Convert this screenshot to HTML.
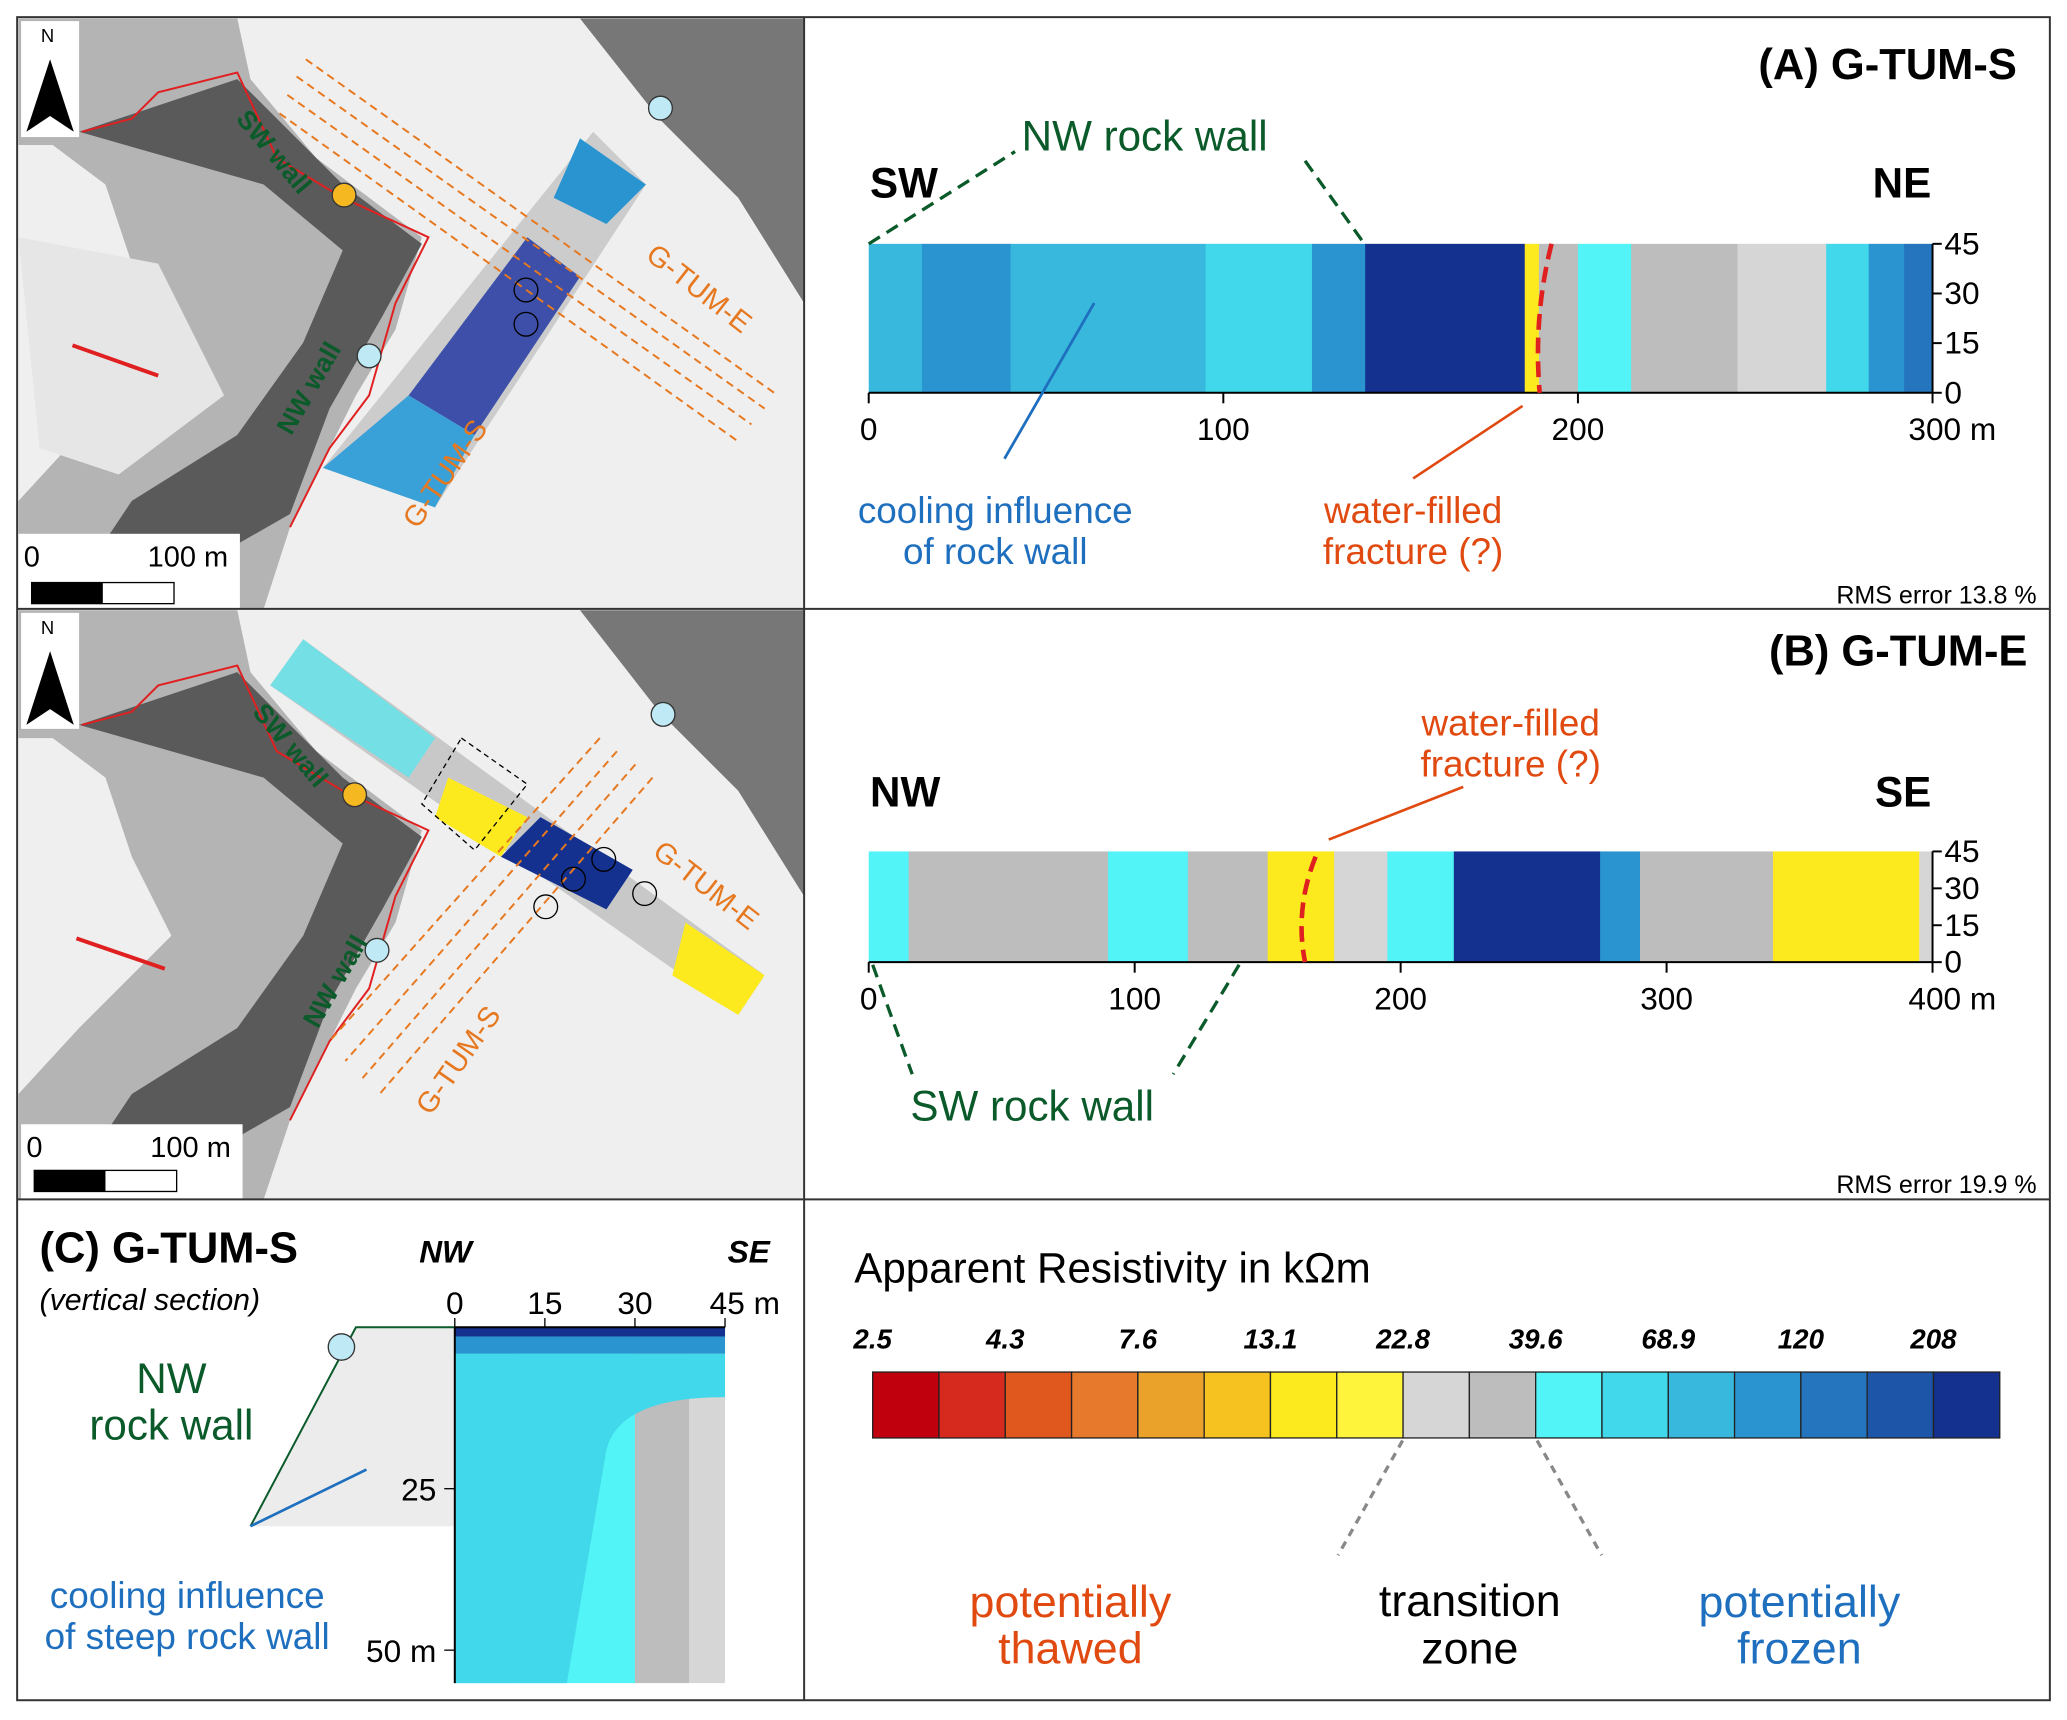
<!DOCTYPE html>
<html><head><meta charset="utf-8"><style>
html,body{margin:0;padding:0;background:#fff}
svg{display:block}
text{font-family:"Liberation Sans",sans-serif}
</style></head><body>
<svg id="fig" width="2067" height="1720" viewBox="0 0 1568 1305" preserveAspectRatio="none" xmlns="http://www.w3.org/2000/svg">
<rect x="0" y="0" width="1568" height="1305" fill="#fff"/>
<g>
<rect x="14" y="14" width="596" height="448" fill="#efefef"/>
<polygon points="14,14 180,14 190,60 240,120 320,180 300,250 270,300 240,360 220,400 200,462 14,462 14,380 60,330 90,300 130,260 100,200 80,140 40,110 14,110" fill="#b4b4b4"/>
<polygon points="60,100 180,60 260,140 320,185 290,240 250,310 220,390 150,430 60,440 100,380 180,330 230,260 260,190 200,140" fill="#5a5a5a"/>
<polygon points="440,14 610,14 610,230 560,150 500,90" fill="#777"/>
<polygon points="14,180 120,200 170,300 90,360 30,340" fill="#e6e6e6"/>
<polyline points="62,100 100,90 120,70 180,55 210,120 260,150 325,180 300,230 280,300 250,340 230,380 220,400" fill="none" stroke="#e02020" stroke-width="1.5"/>
<polygon points="450,100 490,140 330,385 245,355" fill="#c8c8c8" opacity="0.9"/>
<polygon points="400,180 440,210 360,330 310,300" fill="#3d4fa8"/>
<polygon points="310,300 360,330 330,385 245,355" fill="#39a0d8"/>
<polygon points="440,105 490,140 460,170 420,150" fill="#2a94d0"/>
<g stroke="#e67820" stroke-width="1.5" stroke-dasharray="6,4" fill="none">
<line x1="232" y1="45" x2="590" y2="300"/><line x1="225" y1="58" x2="580" y2="310"/><line x1="218" y1="72" x2="570" y2="322"/><line x1="212" y1="86" x2="560" y2="335"/>
</g>
<circle cx="261" cy="148" r="9" fill="#f5b820" stroke="#333"/><circle cx="501" cy="82" r="9" fill="#bfeaf5" stroke="#333"/><circle cx="280" cy="270" r="9" fill="#bfeaf5" stroke="#333"/>
<circle cx="399" cy="220" r="9" fill="none" stroke="#000"/><circle cx="399" cy="246" r="9" fill="none" stroke="#000"/>
<line x1="120" y1="285" x2="55" y2="262" stroke="#e02020" stroke-width="3"/>
<text x="470" y="210" fill="#e67820" font-size="22" transform="rotate(38 500 230)">G-TUM-E</text>
<text x="300" y="390" fill="#e67820" font-size="22" transform="rotate(-55 320 380)">G-TUM-S</text>
<text x="160" y="110" fill="#0a5a2a" font-size="20" font-weight="bold" transform="rotate(50 190 120)">SW wall</text>
<text x="180" y="320" fill="#0a5a2a" font-size="20" font-weight="bold" transform="rotate(-60 210 290)">NW wall</text>
<rect x="16" y="16" width="44" height="88" fill="#fff"/><text x="31" y="32" font-size="14" font-family="Liberation Serif">N</text><polygon points="38,45 20,100 38,88 56,100" fill="#000"/>
<rect x="14" y="405" width="168" height="57" fill="#fff"/><text x="18" y="430" font-size="22">0</text><text x="112" y="430" font-size="22">100 m</text>
<rect x="24" y="442" width="108" height="16" fill="#fff" stroke="#000"/><rect x="24" y="442" width="54" height="16" fill="#000"/>
</g>
<g>
<rect x="14" y="463" width="596" height="447" fill="#efefef"/>
<polygon points="14,463 180,463 190,510 240,570 320,630 300,700 270,750 240,810 220,850 200,910 14,910 14,830 60,780 90,750 130,710 100,650 80,590 40,560 14,560" fill="#b4b4b4"/>
<polygon points="60,550 180,510 260,590 320,635 290,690 250,760 220,840 150,880 60,890 100,830 180,780 230,710 260,640 200,590" fill="#5a5a5a"/>
<polygon points="440,463 610,463 610,680 560,600 500,540" fill="#777"/>
<polyline points="62,550 100,540 120,520 180,505 210,570 260,600 325,630 300,680 280,750 250,790 230,830 220,850" fill="none" stroke="#e02020" stroke-width="1.5"/>
<polygon points="230,485 580,740 560,770 205,520" fill="#c8c8c8"/>
<polygon points="230,485 330,560 310,590 205,520" fill="#50e8f0" opacity="0.7"/>
<polygon points="340,590 400,620 380,650 330,620" fill="#fdea1e"/>
<polygon points="410,620 480,660 460,690 380,650" fill="#14318f"/>
<polygon points="520,700 580,740 560,770 510,740" fill="#fdea1e"/>
<g stroke="#e67820" stroke-width="1.5" stroke-dasharray="6,4" fill="none">
<line x1="455" y1="560" x2="250" y2="790"/><line x1="468" y1="570" x2="262" y2="805"/><line x1="482" y1="580" x2="275" y2="818"/><line x1="495" y1="590" x2="288" y2="830"/>
</g>
<polygon points="350,560 400,595 360,645 320,610" fill="none" stroke="#000" stroke-dasharray="4,3"/>
<circle cx="269" cy="603" r="9" fill="#f5b820" stroke="#333"/><circle cx="503" cy="542" r="9" fill="#bfeaf5" stroke="#333"/><circle cx="286" cy="721" r="9" fill="#bfeaf5" stroke="#333"/>
<circle cx="435" cy="667" r="9" fill="none" stroke="#000"/><circle cx="458" cy="652" r="9" fill="none" stroke="#000"/><circle cx="414" cy="688" r="9" fill="none" stroke="#000"/><circle cx="489" cy="678" r="9" fill="none" stroke="#000"/>
<line x1="125" y1="735" x2="58" y2="712" stroke="#e02020" stroke-width="3"/>
<text x="478" y="665" fill="#e67820" font-size="22" transform="rotate(38 510 680)">G-TUM-E</text>
<text x="310" y="835" fill="#e67820" font-size="22" transform="rotate(-55 330 825)">G-TUM-S</text>
<text x="168" y="560" fill="#0a5a2a" font-size="20" font-weight="bold" transform="rotate(50 200 575)">SW wall</text>
<text x="200" y="770" fill="#0a5a2a" font-size="20" font-weight="bold" transform="rotate(-60 230 740)">NW wall</text>
<rect x="16" y="465" width="44" height="88" fill="#fff"/><text x="31" y="481" font-size="14" font-family="Liberation Serif">N</text><polygon points="38,494 20,550 38,538 56,550" fill="#000"/>
<rect x="16" y="853" width="168" height="57" fill="#fff"/><text x="20" y="878" font-size="22">0</text><text x="114" y="878" font-size="22">100 m</text>
<rect x="26" y="888" width="108" height="16" fill="#fff" stroke="#000"/><rect x="26" y="888" width="54" height="16" fill="#000"/>
</g>
<g fill="none" stroke="#333" stroke-width="1.5">
<rect x="13" y="13" width="1542" height="1277"/><line x1="13" y1="462" x2="1555" y2="462"/><line x1="13" y1="910" x2="1555" y2="910"/><line x1="610" y1="13" x2="610" y2="1290"/>
</g>
<g id="profA"></g>
<g id="profB"></g>
<g id="secC"></g>
<g id="legend"></g>
<text x="1530" y="60" text-anchor="end" font-size="33" font-weight="bold">(A) G-TUM-S</text>
<text x="660" y="150" font-size="32" font-weight="bold">SW</text><text x="1465" y="150" font-size="32" font-weight="bold" text-anchor="end">NE</text>
<text x="775" y="114" font-size="32" fill="#0a5a2a">NW rock wall</text>
<polyline points="659,185 770,115" fill="none" stroke="#0a5a2a" stroke-width="2.5" stroke-dasharray="10,6"/>
<polyline points="990,122 1035,185" fill="none" stroke="#0a5a2a" stroke-width="2.5" stroke-dasharray="10,6"/>
<text x="755" y="397" font-size="28" fill="#1f6fbf" text-anchor="middle">cooling influence</text><text x="755" y="428" font-size="28" fill="#1f6fbf" text-anchor="middle">of rock wall</text>
<line x1="762" y1="348" x2="830" y2="230" stroke="#1f6fbf" stroke-width="2"/>
<text x="1072" y="397" font-size="28" fill="#e04a10" text-anchor="middle">water-filled</text><text x="1072" y="428" font-size="28" fill="#e04a10" text-anchor="middle">fracture (?)</text>
<line x1="1072" y1="363" x2="1155" y2="308" stroke="#e04a10" stroke-width="2"/>
<text x="1545" y="458" font-size="19" text-anchor="end">RMS error 13.8 %</text>
<text x="1538" y="505" text-anchor="end" font-size="33" font-weight="bold">(B) G-TUM-E</text>
<text x="660" y="612" font-size="32" font-weight="bold">NW</text><text x="1465" y="612" font-size="32" font-weight="bold" text-anchor="end">SE</text>
<text x="1146" y="558" font-size="28" fill="#e04a10" text-anchor="middle">water-filled</text><text x="1146" y="589" font-size="28" fill="#e04a10" text-anchor="middle">fracture (?)</text>
<line x1="1008" y1="637" x2="1110" y2="597" stroke="#e04a10" stroke-width="2"/>
<text x="783" y="850" font-size="32" fill="#0a5a2a" text-anchor="middle">SW rock wall</text>
<polyline points="662,732 692,815" fill="none" stroke="#0a5a2a" stroke-width="2.5" stroke-dasharray="10,6"/>
<polyline points="940,732 890,815" fill="none" stroke="#0a5a2a" stroke-width="2.5" stroke-dasharray="10,6"/>
<text x="1545" y="905" font-size="19" text-anchor="end">RMS error 19.9 %</text>
<text x="30" y="958" font-size="33" font-weight="bold">(C) G-TUM-S</text>
<text x="30" y="994" font-size="23" font-style="italic">(vertical section)</text>
<text x="338" y="958" font-size="24" font-weight="bold" font-style="italic" text-anchor="middle">NW</text>
<text x="568" y="958" font-size="24" font-weight="bold" font-style="italic" text-anchor="middle">SE</text>
<text x="130" y="1057" font-size="32" fill="#0a5a2a" text-anchor="middle">NW</text><text x="130" y="1092" font-size="32" fill="#0a5a2a" text-anchor="middle">rock wall</text>
<text x="142" y="1220" font-size="28" fill="#1f6fbf" text-anchor="middle">cooling influence</text><text x="142" y="1251" font-size="28" fill="#1f6fbf" text-anchor="middle">of steep rock wall</text>
<text x="648" y="973" font-size="32">Apparent Resistivity in kΩm</text>
<text x="812" y="1227" font-size="34" fill="#e04a10" text-anchor="middle">potentially</text><text x="812" y="1262" font-size="34" fill="#e04a10" text-anchor="middle">thawed</text>
<text x="1115" y="1226" font-size="34" text-anchor="middle">transition</text><text x="1115" y="1262" font-size="34" text-anchor="middle">zone</text>
<text x="1365" y="1227" font-size="34" fill="#1f6fbf" text-anchor="middle">potentially</text><text x="1365" y="1262" font-size="34" fill="#1f6fbf" text-anchor="middle">frozen</text>
<line x1="1064" y1="1093" x2="1015" y2="1180" stroke="#888" stroke-width="2.5" stroke-dasharray="6,5"/>
<line x1="1166" y1="1093" x2="1215" y2="1180" stroke="#888" stroke-width="2.5" stroke-dasharray="6,5"/>
<line x1="190" y1="1158" x2="278" y2="1115" stroke="#1f6fbf" stroke-width="2"/>
</svg>
<script>
const NS="http://www.w3.org/2000/svg";
const palette=["#c0000d","#d62a1e","#e0581d","#e6792b","#eba22a","#f5c21f","#fdea1e","#fef43c","#d6d6d6","#bdbdbd","#52f4f7","#40d8ea","#39b8de","#2a94d0","#2475bd","#1d56a8","#14318f"];
const legendLabels=["2.5","4.3","7.6","13.1","22.8","39.6","68.9","120","208"];
const segA_start=[0,15,40,60,95,125,140,185,189,200,215,245,270,282,292];
const segA_end=[15,40,60,95,125,140,185,189,200,215,245,270,282,292,300];
const segA_col=[12,13,12,12,11,13,16,6,9,10,9,8,11,13,14];
const ticksA=[0,100,200,300];
const segB_start=[0,15,90,120,150,175,195,220,275,290,340,395];
const segB_end=[15,90,120,150,175,195,220,275,290,340,395,400];
const segB_col=[10,9,10,9,6,8,10,16,13,9,6,8];
const ticksB=[0,100,200,300,400];
const depthTicks=[0,15,30,45];
const secC_start=[0,10,30,39];
const secC_end=[10,30,39,45];
const secC_col=[11,10,9,8];
const secCticksX=[0,15,30,45];
const secCticksY=[25,50];
function mk(tag,attrs,parent,txt){const e=document.createElementNS(NS,tag);for(const k in attrs)e.setAttribute(k,attrs[k]);if(txt!==undefined)e.textContent=txt;parent.appendChild(e);return e;}
function profile(gid,x0,x1,y0,y1,maxM,st,en,co,ticks){
  const g=document.getElementById(gid);
  const sx=m=>x0+(x1-x0)*m/maxM, sy=d=>y1-(y1-y0)*d/45;
  for(let i=0;i<st.length;i++){
    const r=mk("rect",{x:sx(st[i]),y:y0,width:sx(en[i])-sx(st[i])+0.5,height:y1-y0,fill:palette[co[i]]},g);
    
    
  }
  mk("line",{x1:x0,y1:y1,x2:x1,y2:y1,stroke:"#000","stroke-width":1.5},g);
  mk("line",{x1:x1,y1:y0,x2:x1,y2:y1,stroke:"#000","stroke-width":1.5},g);
  ticks.forEach((t,i)=>{const x=sx(t);mk("line",{x1:x,y1:y1,x2:x,y2:y1+8,stroke:"#000","stroke-width":1.5},g);
    mk("text",{x:x+(i==ticks.length-1?15:0),y:y1+36,"font-size":24,"text-anchor":"middle"},g,t+(i==ticks.length-1?" m":""));});
  depthTicks.forEach(d=>{const y=sy(d);mk("line",{x1:x1,y1:y,x2:x1+7,y2:y,stroke:"#000","stroke-width":1.5},g);
    mk("text",{x:x1+9,y:y+8,"font-size":24},g,d);});
}
profile("profA",659,1466,185,298,300,segA_start,segA_end,segA_col,ticksA);
profile("profB",659,1466,646,730,400,segB_start,segB_end,segB_col,ticksB);
(function(){const g=document.getElementById("profA");
 mk("path",{d:"M1177,185 Q1163,240 1168,298",fill:"none",stroke:"#e02020","stroke-width":3.5,"stroke-dasharray":"12,6"},g);
 const gb=document.getElementById("profB");
 mk("path",{d:"M998,650 Q982,690 990,730",fill:"none",stroke:"#e02020","stroke-width":3.5,"stroke-dasharray":"12,6"},gb);})();
(function(){const g=document.getElementById("secC");
 const x0=345,x1=550,y0=1007,y1=1252;const sx=m=>x0+(x1-x0)*m/45, sy=d=>y0+(y1-y0)*d/50;
 mk("polygon",{points:"190,1158 270,1007 345,1007 345,1158",fill:"#ececec"},g);
 mk("polyline",{points:"190,1158 270,1007 345,1007",fill:"none",stroke:"#0a5a2a","stroke-width":1.5},g);
 mk("circle",{cx:259,cy:1022,r:10,fill:"#bfeaf5",stroke:"#333"},g);
 for(let i=0;i<secC_start.length;i++){const r=mk("rect",{x:sx(secC_start[i]),y:y0,width:sx(secC_end[i])-sx(secC_start[i]),height:1277-y0,fill:palette[secC_col[i]]},g);
   
   }
 mk("path",{d:"M345,1027 L550,1027 L550,1060 Q470,1060 460,1100 L430,1277 L345,1277 Z",fill:"#40d8ea"},g);
 mk("rect",{x:x0,y:y0,width:x1-x0,height:20,fill:"#2a94d0"},g);
 mk("rect",{x:x0,y:y0,width:x1-x0,height:7,fill:"#14318f"},g);
 mk("line",{x1:x0,y1:y0,x2:x0,y2:1277,stroke:"#000","stroke-width":1.5},g);
 mk("line",{x1:x0,y1:y0,x2:x1,y2:y0,stroke:"#000","stroke-width":1.5},g);
 secCticksX.forEach((t,i)=>{const x=sx(t);mk("line",{x1:x,y1:y0,x2:x,y2:y0-7,stroke:"#000"},g);
   mk("text",{x:x+(i==3?15:0),y:y0-10,"font-size":24,"text-anchor":"middle"},g,t+(i==3?" m":""));});
 secCticksY.forEach((t,i)=>{const y=sy(t);mk("line",{x1:x0,y1:y,x2:x0-8,y2:y,stroke:"#000"},g);
   mk("text",{x:x0-14,y:y+9,"font-size":24,"text-anchor":"end"},g,t+(i==1?" m":""));});
})();
(function(){const g=document.getElementById("legend");const x0=662,x1=1517,y0=1041,h=50;const w=(x1-x0)/palette.length;
 palette.forEach((c,i)=>{const r=mk("rect",{x:x0+i*w,y:y0,width:w,height:h,fill:c,stroke:"#222","stroke-width":1},g);
   
   });
 legendLabels.forEach((l,i)=>{mk("text",{x:x0+i*2*w,y:1023,"font-size":21,"font-weight":"bold","font-style":"italic","text-anchor":"middle"},g,l);});
})();
// bring annotation lines above profiles
(function(){const svg=document.getElementById("fig");
 const l=mk("line",{x1:762,y1:348,x2:830,y2:230,stroke:"#1f6fbf","stroke-width":2},svg);
 
 })();
</script>
</body></html>
